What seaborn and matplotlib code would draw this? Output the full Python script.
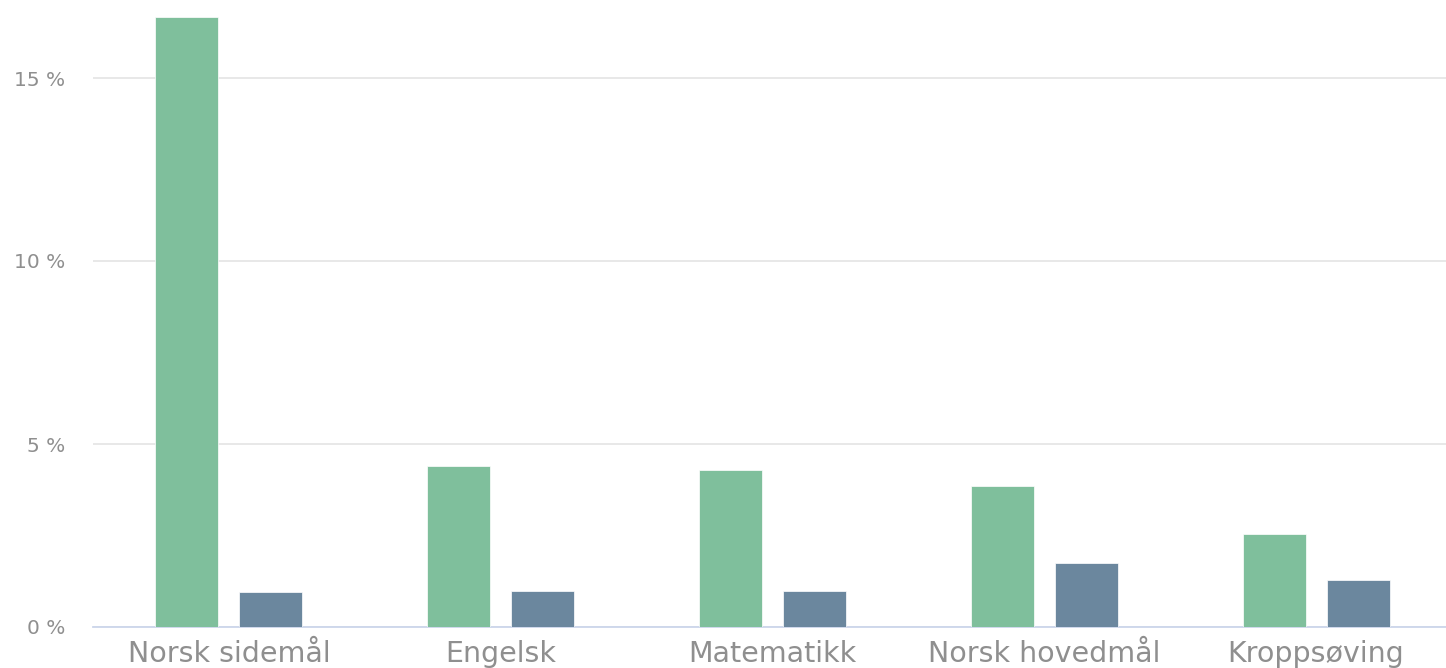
import pandas as pd
import matplotlib.pyplot as plt
import seaborn as sns

# Values (percent)
subjects = ["Norsk sidemål", "Engelsk", "Matematikk", "Norsk hovedmål", "Kroppsøving"]
series_a = [16.67, 4.4, 4.29, 3.85, 2.54]
series_b = [0.96, 0.98, 0.98, 1.75, 1.28]
yticks = [0, 5, 10, 15]
ytick_labels = ["0 %", "5 %", "10 %", "15 %"]

df = pd.DataFrame({
    "fag": subjects * 2,
    "andel": series_a + series_b,
    "serie": ["A"] * len(subjects) + ["B"] * len(subjects),
})

sns.set_style("white")

fig = plt.figure(figsize=(14.46, 6.68), dpi=100)
ax = fig.add_axes([93 / 1446, 1 - 627 / 668, (1452 - 93) / 1446, 627 / 668])

sns.barplot(data=df, x="fag", y="andel", hue="serie",
            palette=["#7fbf9c", "#6b879e"], saturation=1, width=0.618, gap=0.25,
            edgecolor="white", linewidth=0.5, legend=False, ax=ax, zorder=3)

ax.set_xlim(-0.5, 4.5)
ax.set_ylim(0, 627 / 36.6)
ax.set_yticks(yticks)
ax.set_yticklabels(ytick_labels)
ax.yaxis.grid(True, color="#e6e6e6", linewidth=1.3, zorder=0)
ax.set_axisbelow(True)

for s in ["top", "right", "left"]:
    ax.spines[s].set_visible(False)
ax.spines["bottom"].set_color("#ccd6eb")
ax.spines["bottom"].set_linewidth(1.3)

ax.tick_params(axis="y", length=0, pad=20, labelsize=14.5, labelcolor="#8f8f8f")
ax.tick_params(axis="x", length=0, pad=9, labelsize=20.5, labelcolor="#8f8f8f")
ax.set_xlabel("")
ax.set_ylabel("")

fig.savefig("out.png", dpi=100)
